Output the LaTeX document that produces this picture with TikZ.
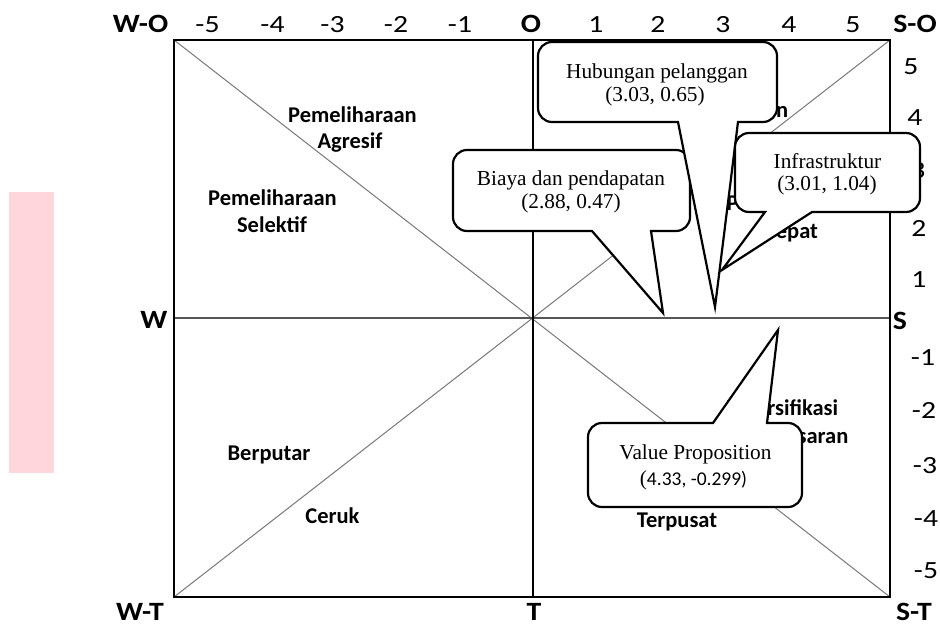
\documentclass[tikz,border=0pt]{standalone}
\usepackage{fontspec}
\setmainfont{Liberation Serif}
\newfontfamily\carlito{Carlito}
\newfontfamily\carlitoax[FakeStretch=1.13]{Carlito}
\newfontfamily\carlitonum[FakeStretch=1.2]{Carlito}
\definecolor{pinkbar}{RGB}{255,214,220}
\definecolor{diaggray}{RGB}{120,120,120}
\definecolor{midgray}{RGB}{85,85,85}
\begin{document}
\begin{tikzpicture}[x=1pt,y=-1pt,
  axl/.style={font=\carlitoax\bfseries\fontsize{26.4}{30}\selectfont, inner sep=0, anchor=base},
  num/.style={font=\carlitonum\fontsize{24.7}{28}\selectfont, inner sep=0, anchor=base},
  reg/.style={font=\carlito\bfseries\fontsize{22.5}{27}\selectfont, inner sep=0, anchor=base},
  ctext/.style={font=\fontsize{21.3}{24}\selectfont, inner sep=0, anchor=base},
  diagline/.style={draw=diaggray, line width=1pt},
  midline/.style={draw=midgray, line width=1.2pt},
  frame/.style={draw=black, line width=1.2pt},
  vline/.style={draw=black, line width=2.2pt},
  callout/.style={draw=black, fill=white, line width=2.2pt, line join=miter}
]
\useasboundingbox (0,0) rectangle (940,632);
\fill[pinkbar] (9,192) rectangle (54,473);

\coordinate (NW) at (174,40);
\coordinate (NE) at (890,40);
\coordinate (SW) at (174,597);
\coordinate (SE) at (890,597);
\coordinate (Wm) at (174,318);
\coordinate (Em) at (890,318);
\coordinate (Ot) at (533,40);
\coordinate (Tb) at (533,597);

\draw[diagline] (NW) -- (SE);
\draw[diagline] (SW) -- (NE);
\draw[midline] (Wm) -- (Em);
\draw[frame] (NW) rectangle (SE);
\draw[vline] (Ot) -- (Tb);

% axis letters
\node[axl] (lWO) at (140.5,32) {W-O};
\node[axl] (lO) at (531,32) {O};
\node[axl] (lSO) at (915,32) {S-O};
\node[axl] (lW) at (154,328.5) {W};
\node[axl] (lS) at (900,329) {S};
\node[axl] (lWT) at (140,620.5) {W-T};
\node[axl] (lT) at (534,620.5) {T};
\node[axl] (lST) at (914,620.5) {S-T};

% top numbers
\node[num] (tm5) at (207.5,32) {-5};
\node[num] (tm4) at (272.5,32) {-4};
\node[num] (tm3) at (332.5,32) {-3};
\node[num] (tm2) at (396,32) {-2};
\node[num] (tm1) at (460,32) {-1};
\node[num] (tp1) at (596,32) {1};
\node[num] (tp2) at (658,32) {2};
\node[num] (tp3) at (723,32) {3};
\node[num] (tp4) at (789,32) {4};
\node[num] (tp5) at (853,32) {5};

% right numbers
\node[num] (rp5) at (911,74) {5};
\node[num] (rp4) at (915,125) {4};
\node[num] (rp3) at (918,178) {3};
\node[num] (rp2) at (919,236) {2};
\node[num] (rp1) at (919,287) {1};
\node[num] (rm1) at (923,365) {-1};
\node[num] (rm2) at (924,418) {-2};
\node[num] (rm3) at (925,473) {-3};
\node[num] (rm4) at (926,526) {-4};
\node[num] (rm5) at (926,578) {-5};

% region labels
\node[reg] (pa1) at (352.5,122) {Pemeliharaan};
\node[reg] (pa2) at (350,148) {Agresif};
\node[reg] (ps1) at (272.5,205) {Pemeliharaan};
\node[reg] (ps2) at (272,232) {Selektif};
\node[reg] (bp) at (269,460) {Berputar};
\node[reg] (cr) at (332.5,523) {Ceruk};
\node[reg] (tp) at (677,527) {Terpusat};
\node[reg] (pt) at (724,117) {Pertumbuhan};
\node[reg] (pc1) at (791,210) {Pertumbuhan};
\node[reg] (pc2) at (791,238) {Cepat};
\node[reg] (dv1) at (782,415) {Diversifikasi};
\node[reg] (dv2) at (782,443) {Besar-besaran};

% callout tips
\coordinate (tipB) at (663,313);
\coordinate (tipH) at (715,307);
\coordinate (tipI) at (722,270);
\coordinate (tipV) at (778,330);

% Biaya dan pendapatan
\filldraw[callout] (651,231) -- (676,231) arc[start angle=90,end angle=0,radius=14]
  -- (690,164) arc[start angle=0,end angle=-90,radius=14]
  -- (467,150) arc[start angle=-90,end angle=-180,radius=14]
  -- (453,217) arc[start angle=180,end angle=90,radius=14]
  -- (592,231) -- (tipB) -- cycle;
\node[ctext] (cb1) at (571,185) {Biaya dan pendapatan};
\node[ctext] (cb2) at (571,208) {(2.88, 0.47)};

% Hubungan pelanggan
\filldraw[callout] (738,122) -- (763,122) arc[start angle=90,end angle=0,radius=14]
  -- (777,56) arc[start angle=0,end angle=-90,radius=14]
  -- (552,42) arc[start angle=-90,end angle=-180,radius=14]
  -- (538,108) arc[start angle=180,end angle=90,radius=14]
  -- (678,122) -- (tipH) -- cycle;
\node[ctext] (ch1) at (657,78) {Hubungan pelanggan};
\node[ctext] (ch2) at (655,101) {(3.03, 0.65)};

% Infrastruktur
\filldraw[callout] (812,212) -- (906,212) arc[start angle=90,end angle=0,radius=14]
  -- (920,147) arc[start angle=0,end angle=-90,radius=14]
  -- (749,133) arc[start angle=-90,end angle=-180,radius=14]
  -- (735,198) arc[start angle=180,end angle=90,radius=14]
  -- (765,212) -- (tipI) -- cycle;
\node[ctext] (ci1) at (827.5,168) {Infrastruktur};
\node[ctext] (ci2) at (827,190) {(3.01, 1.04)};

% Value Proposition
\filldraw[callout] (713,423) -- (tipV) -- (767,423)
  -- (788,423) arc[start angle=-90,end angle=0,radius=14]
  -- (802,493) arc[start angle=0,end angle=90,radius=14]
  -- (602,507) arc[start angle=90,end angle=180,radius=14]
  -- (588,437) arc[start angle=180,end angle=270,radius=14]
  -- cycle;
\node[ctext] (cv1) at (695.5,459) {Value Proposition};
\node[ctext] (cv2) at (693.5,485) {(\carlito\fontsize{19.5}{24}\selectfont 4.33, -0.299)};
\end{tikzpicture}
\end{document}
